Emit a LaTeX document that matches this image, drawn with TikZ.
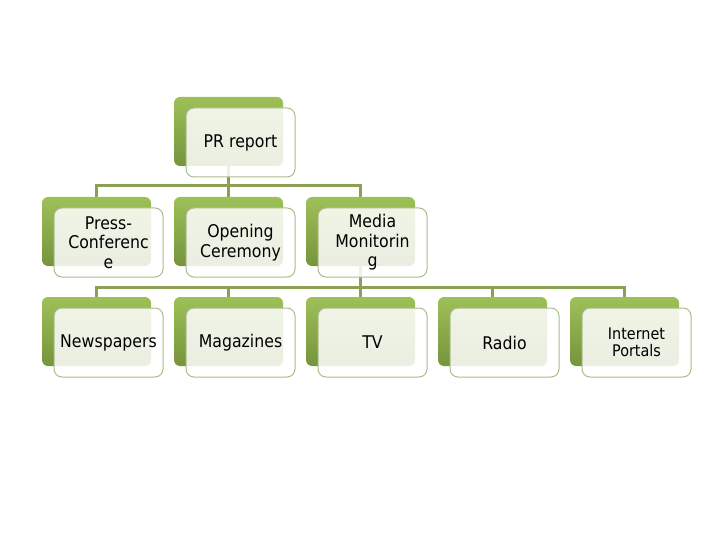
\documentclass[tikz,border=0pt]{standalone}
\usepackage{fontspec}
\setmainfont{DejaVu Sans}[FakeStretch=0.9]
\usetikzlibrary{backgrounds}
\definecolor{card top color}{RGB}{158,192,88}
\definecolor{card bottom color}{RGB}{118,148,60}
\definecolor{card border color}{RGB}{172,186,140}
\definecolor{connector color}{RGB}{138,160,84}
\tikzset{
    x={1pt},
    y={-1pt},
    card back/.style={
        rectangle, rounded corners={6pt},
        top color=card top color,
        bottom color=card bottom color,
        draw=none,
        inner sep=0pt,
        minimum width={109pt},
        minimum height={69pt},
    },
    card/.style={
        rectangle, rounded corners={8pt},
        draw=card border color,
        line width={1pt},
        fill=white, fill opacity=0.85, text opacity=1,
        inner sep=0pt,
        minimum width={109pt},
        minimum height={69pt},
        align=center,
        font={\fontsize{17.5}{19.5}\selectfont},
    },
    small card/.style={
        card,
        font={\fontsize{16}{17}\selectfont},
    },
    connector/.style={
        draw=connector color,
        line width={3pt},
    },
}

\begin{document}
\begin{tikzpicture}
\useasboundingbox (0,0) rectangle (720,540);
% backs
\node[card back] (pr back) at (228.5,131.5) {};
\node[card back] (press back) at (96.5,231.5) {};
\node[card back] (opening back) at (228.5,231.5) {};
\node[card back] (monitoring back) at (360.5,231.5) {};
\node[card back] (newspapers back) at (96.5,331.5) {};
\node[card back] (magazines back) at (228.5,331.5) {};
\node[card back] (tv back) at (360.5,331.5) {};
\node[card back] (radio back) at (492.5,331.5) {};
\node[card back] (portals back) at (624.5,331.5) {};
% cards
\node[card] (pr) at (240.5,142.5) {PR report};
\node[card] (press) at (108.5,242.5) {Press-\\Conferenc\\e};
\node[card] (opening) at (240.5,242.5) {Opening\\Ceremony};
\node[card] (monitoring) at (372.5,242.5) {Media\\Monitorin\\g};
\node[card] (newspapers) at (108.5,342.5) {Newspapers};
\node[card] (magazines) at (240.5,342.5) {Magazines};
\node[card] (tv) at (372.5,342.5) {TV};
\node[card] (radio) at (504.5,342.5) {Radio};
\node[small card] (portals) at (636.5,342.5) {Internet\\Portals};
% connectors
\coordinate (top bus) at (228.5,186);
\coordinate (low bus) at (360.5,287);
\begin{scope}[on background layer]
\draw[connector] (pr back.south) -- (top bus);
\draw[connector] (top bus) -| (press back.north);
\draw[connector] (top bus) -- (opening back.north);
\draw[connector] (top bus) -| (monitoring back.north);
\draw[connector] (monitoring back.south) -- (low bus);
\draw[connector] (low bus) -| (newspapers back.north);
\draw[connector] (low bus) -| (magazines back.north);
\draw[connector] (low bus) -- (tv back.north);
\draw[connector] (low bus) -| (radio back.north);
\draw[connector] (low bus) -| (portals back.north);
\end{scope}
\end{tikzpicture}
\end{document}
